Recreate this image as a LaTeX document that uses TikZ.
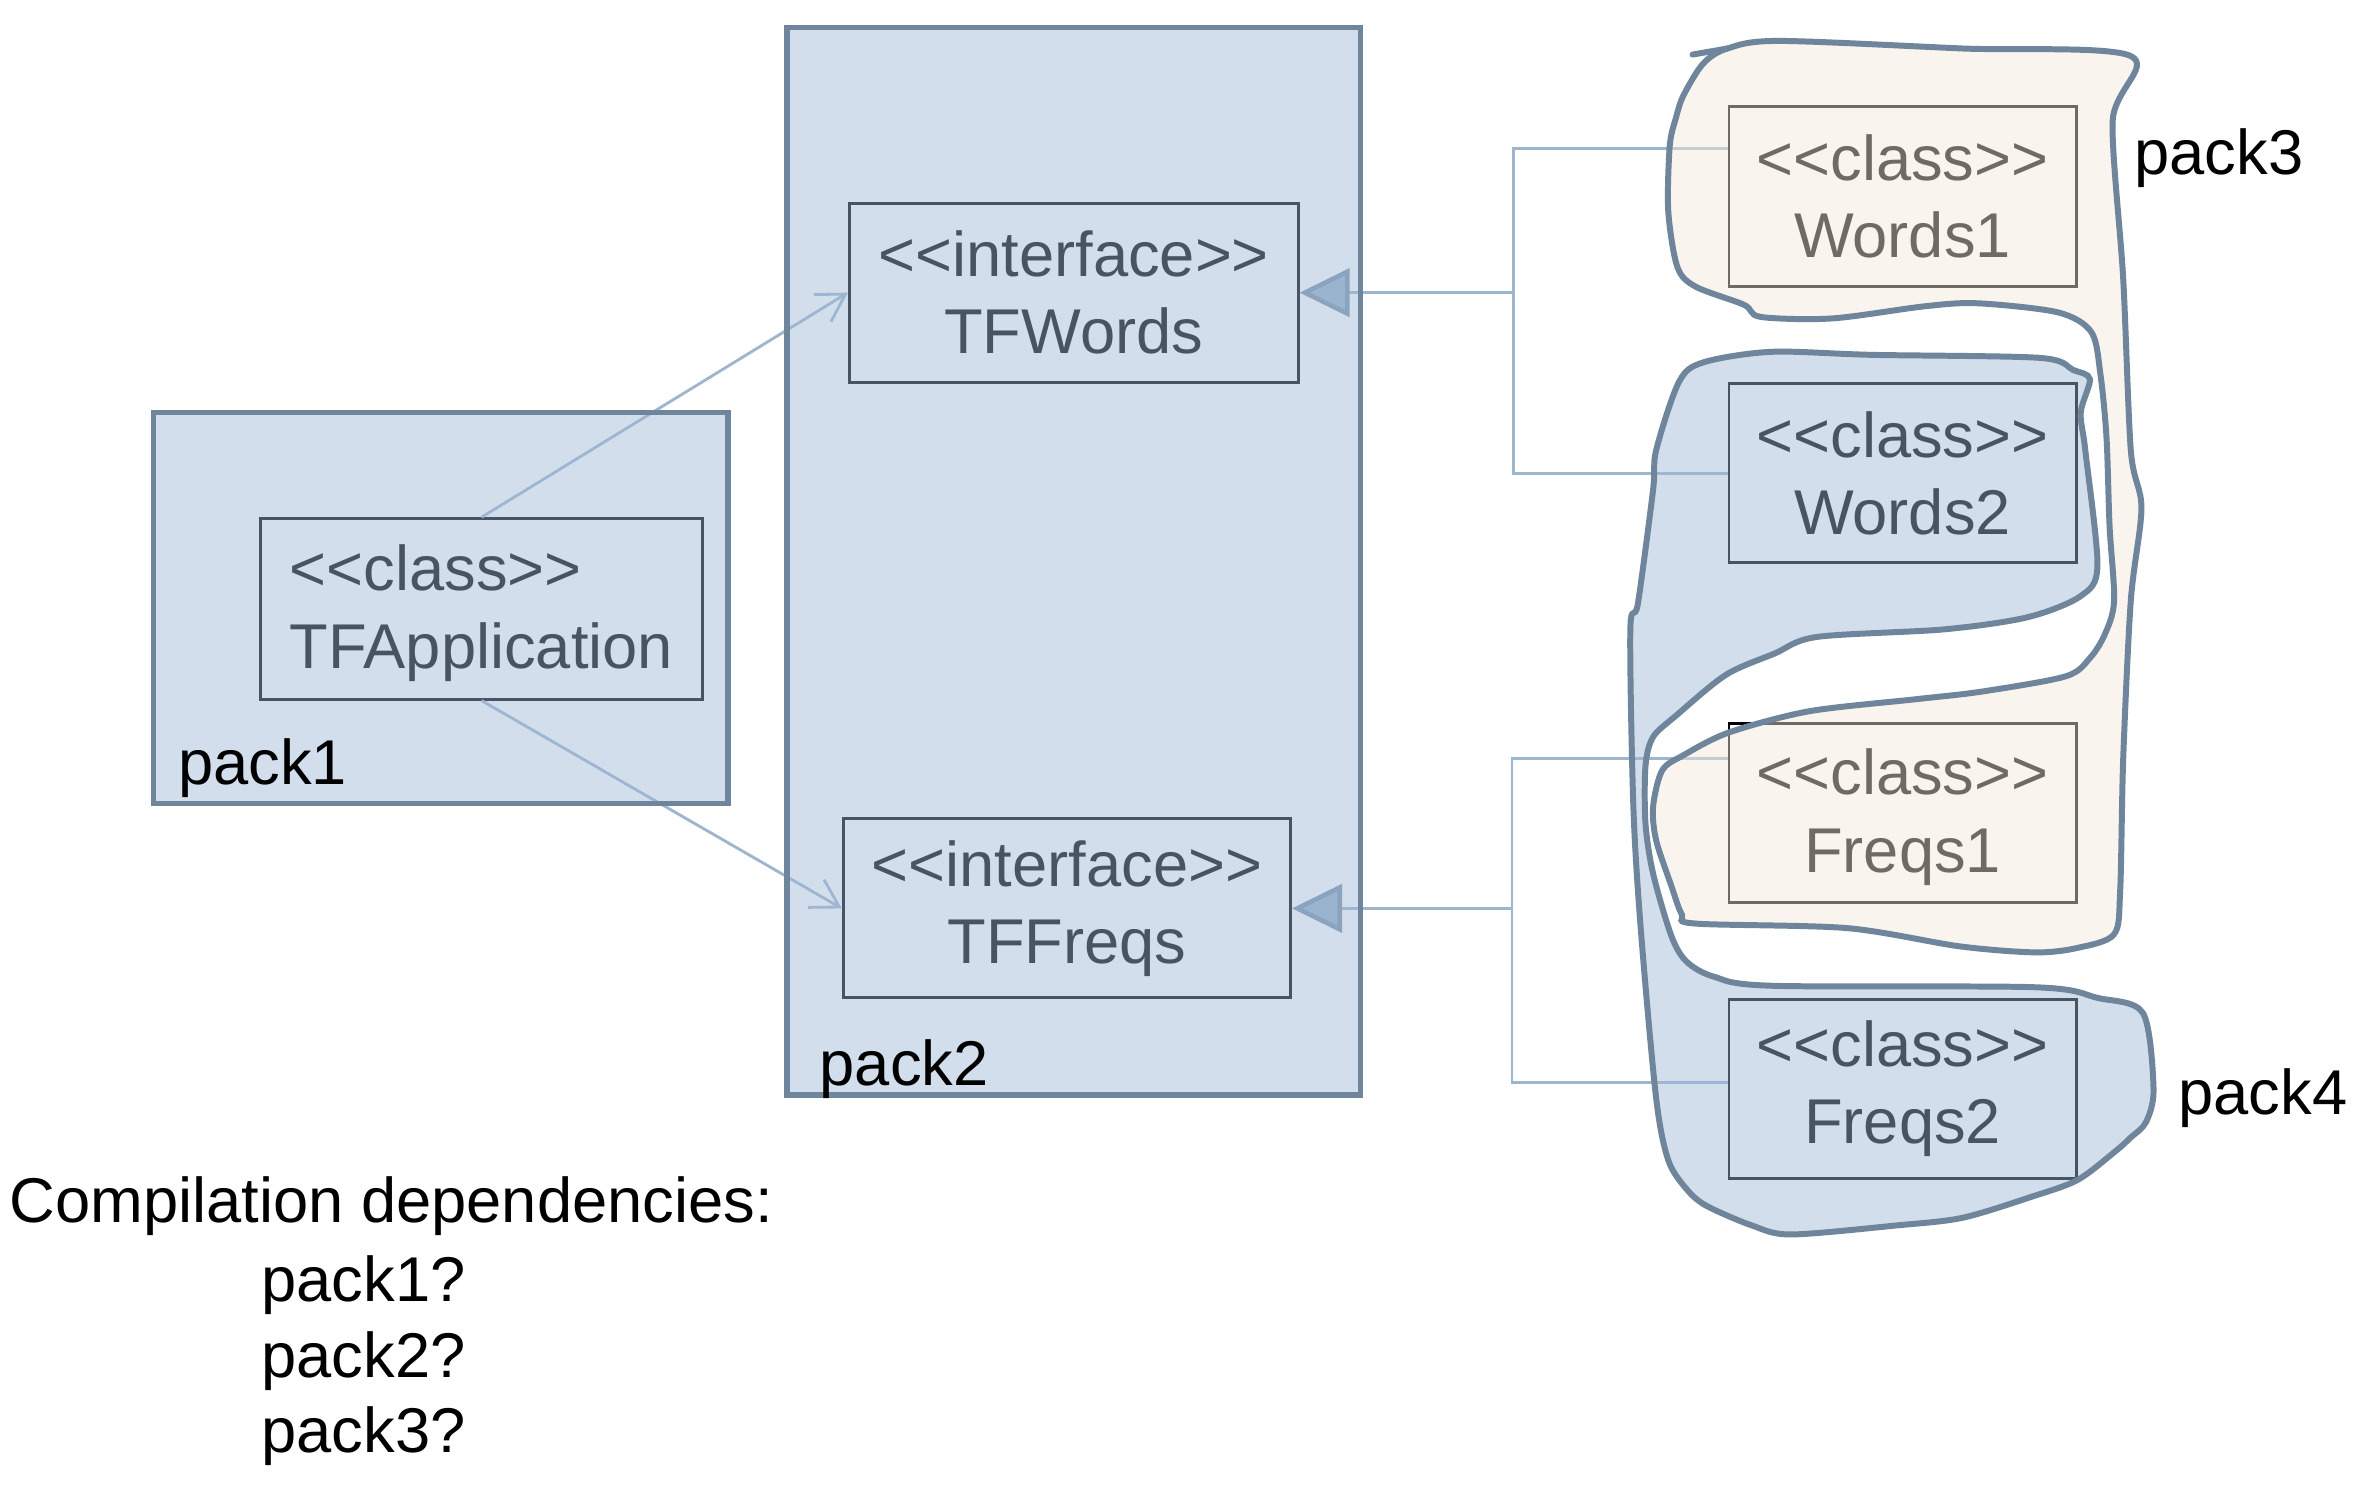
\documentclass[tikz,border=0pt]{standalone}
\usepackage{fontspec}
\setmainfont{Liberation Sans}
\usetikzlibrary{arrows.meta}

\definecolor{packfill}{RGB}{160,184,214}
\definecolor{peachfill}{RGB}{246,233,221}
\definecolor{packline}{RGB}{110,133,156}
\definecolor{depline}{RGB}{157,181,205}
\definecolor{tipfill}{RGB}{150,176,200}
\definecolor{tipline}{RGB}{120,146,170}

\begin{document}
\begin{tikzpicture}[x=1.5166cm, y=1.5166cm,
    classbox/.style={draw=black, line width=0.8pt, inner sep=0pt, align=center, font=\fontsize{18}{22}\selectfont},
    pack/.style={draw=packline, line width=1.5pt, fill=packfill, fill opacity=0.46},
    blob/.style={draw=packline, line width=1.7pt, fill opacity=0.46},
    dep/.style={depline, line width=0.8pt, -{Straight Barb[length=0.27cm, width=0.32cm]}},
    gen/.style={depline, line width=0.8pt, -{Triangle[length=0.5cm, width=0.48cm, fill=tipfill, color=tipline, line width=1.3pt]}},
    tie/.style={depline, line width=0.8pt},
    packlabel/.style={anchor=base west, inner sep=0pt, font=\fontsize{18}{22}\selectfont}]
\fill[white] (0,0) rectangle (15.68,9.79);
\useasboundingbox (0,0) rectangle (15.68,9.79);

% classes and interfaces
\node[classbox, align=left, minimum width=4.413cm, minimum height=1.805cm] (tfapp) at (3.175,5.775) {\strut<{}<class>{}>\\TFApplication};
\node[classbox, minimum width=4.489cm, minimum height=1.790cm] (tfwords) at (7.08,7.86) {<{}<interface>{}>\\TFWords};
\node[classbox, minimum width=4.474cm, minimum height=1.790cm] (tffreqs) at (7.035,3.80) {<{}<interface>{}>\\TFFreqs};
\node[classbox, minimum width=3.473cm, minimum height=1.805cm] (words1) at (12.545,8.495) {<{}<class>{}>\\Words1};
\node[classbox, minimum width=3.473cm, minimum height=1.790cm] (words2) at (12.545,6.67) {<{}<class>{}>\\Words2};
\node[classbox, minimum width=3.473cm, minimum height=1.790cm] (freqs1) at (12.545,4.43) {\strut<{}<class>{}>\\Freqs1};
\node[classbox, minimum width=3.473cm, minimum height=1.790cm] (freqs2) at (12.545,2.61) {<{}<class>{}>\\Freqs2};

% dependencies
\draw[dep] (tfapp.north) -- (tfwords.west);
\draw[dep] (tfapp.south) -- (tffreqs.west);

% realisations
\coordinate (wjoin) at (9.98,7.86);
\coordinate (fjoin) at (9.97,3.80);
\draw[gen] ([yshift=0.478cm]words1.west) -| (wjoin) -- (tfwords.east);
\draw[tie] (words2.west) -| (wjoin);
\draw[gen] ([yshift=0.546cm]freqs1.west) -| (fjoin) -- (tffreqs.east);
\draw[tie] ([yshift=0.06cm]freqs2.west) -| (fjoin);

% packages
\draw[pack] (1.01,4.49) rectangle (4.80,7.07);
\draw[pack] (5.19,2.57) rectangle (8.97,9.61);

\draw[blob, fill=peachfill] plot[smooth cycle, tension=0.5] coordinates {
  (11.23,9.37) (11.39,9.47) (11.73,9.52) (12.94,9.47) (14.05,9.42)
  (13.93,8.99) (14.00,7.95) (14.05,6.82) (14.12,6.44) (14.05,5.83)
  (14.00,4.79) (13.98,3.92) (13.94,3.63) (13.70,3.54) (13.42,3.51)
  (12.92,3.55) (12.18,3.67) (11.18,3.70) (11.09,3.76) (11.02,3.95)
  (10.92,4.25) (10.90,4.47) (10.96,4.71) (11.10,4.81) (11.40,4.96)
  (11.93,5.10) (12.64,5.18) (13.07,5.23) (13.62,5.33) (13.78,5.45)
  (13.88,5.61) (13.94,5.83) (13.91,6.32) (13.89,6.90) (13.85,7.32)
  (13.79,7.60) (13.57,7.73) (13.04,7.79) (12.69,7.77) (12.08,7.69)
  (11.61,7.70) (11.50,7.78) (11.18,7.90) (11.06,8.03) (11.00,8.40)
  (11.01,8.83) (11.05,9.01) (11.10,9.16)};
\draw[packline, line width=1.7pt, line cap=round] (11.16,9.43) -- (11.39,9.47);

\draw[blob, fill=packfill] plot[smooth cycle, tension=0.5] coordinates {
  (11.07,7.27) (11.23,7.40) (11.68,7.47) (12.34,7.45) (13.45,7.43)
  (13.67,7.35) (13.78,7.29) (13.72,7.07) (13.75,6.82) (13.83,6.06)
  (13.72,5.86) (13.37,5.72) (12.82,5.64) (11.98,5.59) (11.70,5.48)
  (11.38,5.34) (11.05,5.07) (10.90,4.93) (10.85,4.74) (10.85,4.36)
  (10.90,4.03) (11.02,3.62) (11.12,3.45) (11.30,3.35) (11.68,3.29)
  (13.42,3.28) (13.83,3.21) (14.13,3.11) (14.20,2.61) (14.15,2.39)
  (14.05,2.29) (13.95,2.20) (13.70,2.01) (13.40,1.90) (12.94,1.76)
  (12.51,1.71) (11.81,1.65) (11.55,1.71) (11.25,1.84) (11.12,1.95)
  (11.00,2.14) (10.92,2.55) (10.82,3.65) (10.77,4.47) (10.75,5.64)
  (10.80,5.81) (10.90,6.56) (10.92,6.82)};

% package names
\node[packlabel] (p1) at (1.17,4.62) {pack1};
\node[packlabel] (p2) at (5.40,2.63) {pack2};
\node[packlabel] (p3) at (14.07,8.64) {pack3};
\node[packlabel] (p4) at (14.36,2.44) {pack4};

\node[packlabel] (deps) at (0.06,1.73) {Compilation dependencies:};
\node[packlabel] (q1) at (1.72,1.21) {pack1?};
\node[packlabel] (q2) at (1.72,0.71) {pack2?};
\node[packlabel] (q3) at (1.72,0.21) {pack3?};

\end{tikzpicture}
\end{document}
